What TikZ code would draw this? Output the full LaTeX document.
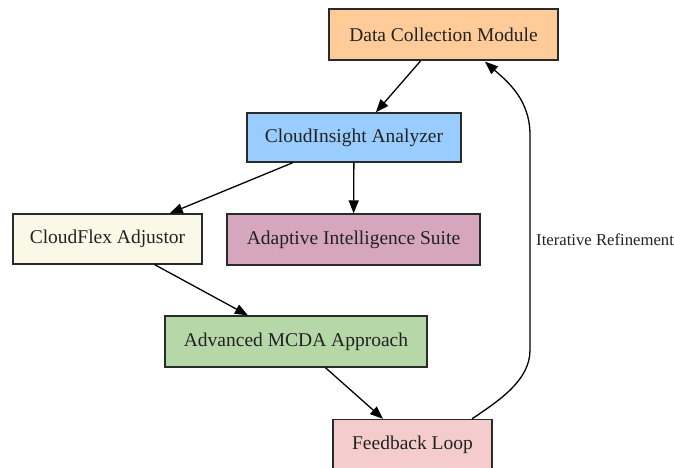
\documentclass[tikz,border=0pt]{standalone}
\usepackage{fontspec}
\setmainfont{Liberation Serif}
\usetikzlibrary{arrows.meta,calc}
\definecolor{cpeach}{HTML}{FFCC99}
\definecolor{cblue}{HTML}{99CCFF}
\definecolor{ccream}{HTML}{FAF8E6}
\definecolor{cmauve}{HTML}{D5A6BD}
\definecolor{cgreen}{HTML}{B6D7A8}
\definecolor{cpink}{HTML}{F4CCCC}
\definecolor{cborder}{HTML}{2A2A2A}
\definecolor{ctext}{HTML}{222222}
\tikzset{
  box/.style={draw=cborder, line width=1.3pt, rectangle, inner sep=0pt,
    font=\rmfamily\fontsize{19.5}{23}\selectfont, text=ctext},
  conn/.style={draw=black, line width=1.3pt, -{Triangle[length=13pt,width=10pt]}},
  lbl/.style={font=\rmfamily\fontsize{16.7}{20}\selectfont, text=ctext, anchor=west, inner sep=0pt}
}
\begin{document}
\begin{tikzpicture}[x=1pt,y=-1pt]
\useasboundingbox (0,0) rectangle (674,467);
\node[box, fill=cpeach, minimum width=229pt, minimum height=51pt] (dcm) at (443.5,34.5) {Data Collection Module};
\node[box, fill=cblue, minimum width=214pt, minimum height=49pt] (cia) at (354,137.5) {CloudInsight Analyzer};
\node[box, fill=ccream, minimum width=189pt, minimum height=50pt] (cfa) at (107.5,239) {CloudFlex Adjustor};
\node[box, fill=cmauve, minimum width=253pt, minimum height=51pt] (ais) at (353.5,239.5) {Adaptive Intelligence Suite};
\node[box, fill=cgreen, minimum width=262pt, minimum height=51pt] (mcda) at (296,341.5) {Advanced MCDA Approach};
\node[box, fill=cpink, minimum width=159pt, minimum height=51pt] (fl) at (412.5,445) {Feedback Loop};
\draw[conn] (dcm) -- (cia);
\draw[conn] (cia) -- (cfa);
\draw[conn] (cia) -- (ais);
\draw[conn] (cfa) -- (mcda);
\draw[conn] (mcda) -- (fl);
\coordinate (fbs) at ($(fl.north)+(59.5,0)$);
\coordinate (fbe) at ($(dcm.south)+(41.5,1)$);
\draw[conn] (fbs) .. controls (500,400) and (530,380) .. (530,350)
  -- (530,135) .. controls (530,100) and (508,82) .. (fbe);
\node[lbl] (itr) at (536,240) {Iterative Refinement};
\end{tikzpicture}
\end{document}
